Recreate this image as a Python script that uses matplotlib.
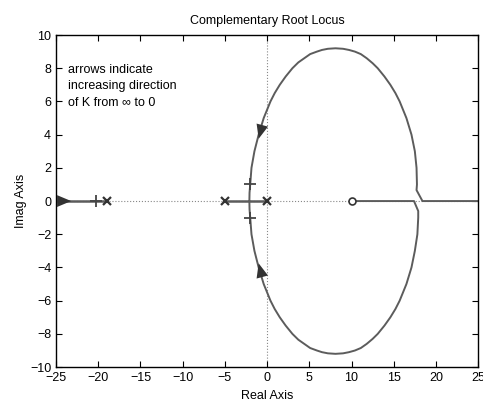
import matplotlib
matplotlib.use('Agg')
import matplotlib.pyplot as plt

plt.rcParams['font.family'] = ['Liberation Sans', 'DejaVu Sans']

# open-loop poles / zeros and the marked gain points
pole_x = [-19.0, -5.0, 0.0]
zero_x = [10.0]
mark_x = [-20.3, -2.0, -2.0]
mark_y = [0.0, 1.0, -1.0]

# locus branches
upper_x = [-2.1, -2.08, -2.0, -1.85, -1.5, -1.0, -0.4, 0.0, 0.4, 0.9, 1.5, 2.2, 3.0,
           3.7, 4.4, 5.1, 5.9, 6.5, 7.2, 8.1, 9.0, 9.7, 10.4, 11.1, 11.8, 12.5, 13.1,
           13.9, 14.6, 15.2, 15.7, 16.5, 17.1, 17.5, 17.7, 17.75, 17.7, 18.4, 25.0]
upper_y = [0.0, 0.5, 1.0, 2.0, 3.0, 4.0, 5.0, 5.5, 6.0, 6.5, 7.0, 7.5, 8.0,
           8.35, 8.6, 8.85, 9.0, 9.1, 9.17, 9.2, 9.17, 9.1, 9.0, 8.85, 8.6, 8.3, 8.0,
           7.5, 7.0, 6.5, 6.0, 5.0, 4.0, 3.0, 2.0, 1.0, 0.66, 0.0, 0.0]
lower_x = [-2.1, -2.08, -2.0, -1.85, -1.5, -1.0, -0.4, 0.0, 0.4, 0.9, 1.5, 2.2, 3.0,
           3.7, 4.4, 5.1, 5.9, 6.5, 7.2, 8.1, 9.0, 9.7, 10.4, 11.1, 11.8, 12.5, 13.1,
           13.9, 14.6, 15.2, 15.7, 16.5, 17.1, 17.5, 17.8, 17.9, 17.9, 17.4, 10.0]
lower_y = [0.0, -0.5, -1.0, -2.0, -3.0, -4.0, -5.0, -5.5, -6.0, -6.5, -7.0, -7.5, -8.0,
           -8.35, -8.6, -8.85, -9.0, -9.1, -9.17, -9.2, -9.17, -9.1, -9.0, -8.85, -8.6, -8.3, -8.0,
           -7.5, -7.0, -6.5, -6.0, -5.0, -4.0, -3.0, -2.0, -1.0, -0.6, 0.0, 0.0]
left_x = [-25.0, -19.0]
mid_x = [-5.0, 0.0]

# arrows: (tail, tip)
arrows = [((-0.45, 4.8), (-1.0, 3.75)),
          ((-0.45, -4.8), (-1.0, -3.75)),
          ((-25.0, 0.0), (-23.2, 0.0))]

col = '#5c5c5c'

fig = plt.figure(figsize=(4.83, 4.07), dpi=100)
ax = fig.add_axes([0.116, 0.098, 0.874, 0.816])

ax.axhline(0, color='#888888', ls=':', lw=0.8, zorder=1)
ax.axvline(0, color='#888888', ls=':', lw=0.8, zorder=1)

ax.plot(upper_x, upper_y, color=col, lw=1.4, zorder=2)
ax.plot(lower_x, lower_y, color=col, lw=1.4, zorder=2)
ax.plot(left_x, [0, 0], color=col, lw=1.8, zorder=2)
ax.plot(mid_x, [0, 0], color=col, lw=1.8, zorder=2)

ax.plot(pole_x, [0] * len(pole_x), 'x', color='#333333', ms=6, mew=1.6, zorder=3)
ax.plot(zero_x, [0] * len(zero_x), 'o', mfc='white', mec='#333333', ms=5, mew=1.2, zorder=3)
ax.plot(mark_x, mark_y, '+', color='#444444', ms=9, mew=1.3, zorder=3)

for tail, tip in arrows:
    ax.annotate('', xy=tip, xytext=tail,
                arrowprops=dict(arrowstyle='-|>,head_length=0.6,head_width=0.25',
                                color='#333333', lw=0,
                                mutation_scale=17, shrinkA=0, shrinkB=0))

ax.text(-23.6, 6.9, 'arrows indicate\nincreasing direction\nof K from \u221e to 0',
        fontsize=9, va='center', ha='left', linespacing=1.45)

ax.set_xlim(-25, 25)
ax.set_ylim(-10, 10)
ax.set_xticks(range(-25, 26, 5))
ax.set_yticks(range(-10, 11, 2))
ax.tick_params(direction='in', top=True, right=True, labelsize=9, length=4, width=0.8)
for s in ax.spines.values():
    s.set_linewidth(1.0)

ax.set_title('Complementary Root Locus', fontsize=9, pad=8)
ax.set_xlabel('Real Axis', fontsize=9, labelpad=4)
ax.set_ylabel('Imag Axis', fontsize=9, labelpad=2)

fig.savefig('out.png', dpi=100)
